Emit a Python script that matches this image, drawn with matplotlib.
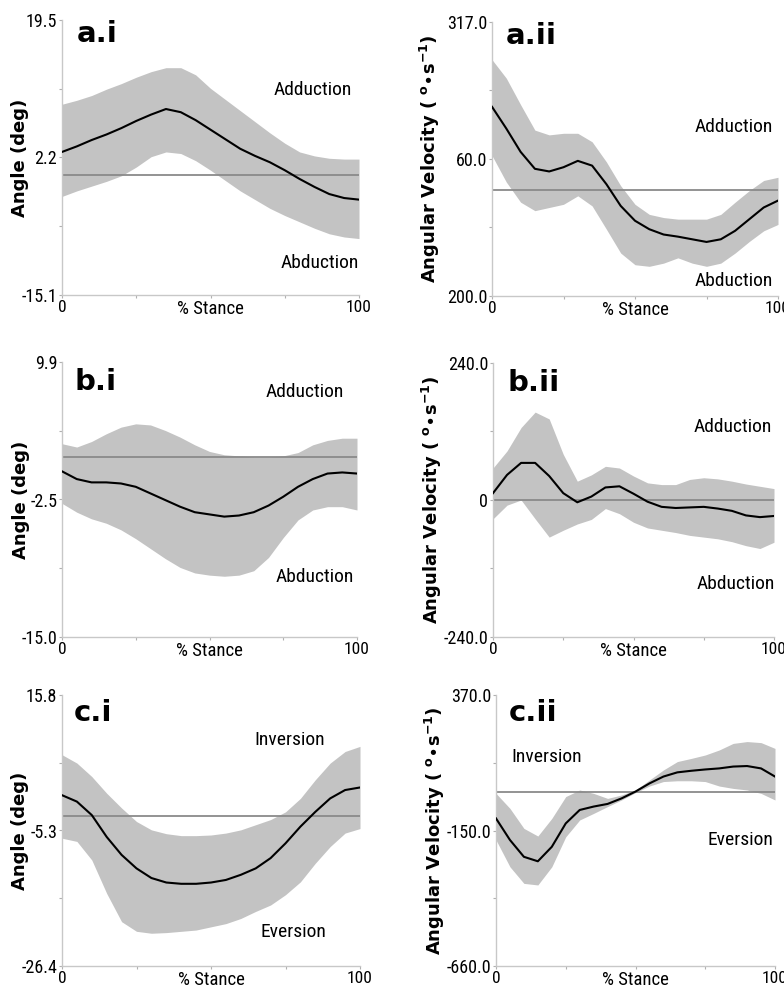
import numpy as np
import matplotlib
matplotlib.use('Agg')
import matplotlib.pyplot as plt

# % stance sample points shared by all panels
stance = [0, 5, 10, 15, 20, 25, 30, 35, 40, 45, 50, 55, 60, 65, 70, 75, 80, 85, 90, 95, 100]

# a.i  angle (deg)
a_i_mean = [2.9, 3.6, 4.4, 5.1, 5.9, 6.8, 7.6, 8.3, 7.9, 6.9, 5.7, 4.5, 3.3, 2.4, 1.6, 0.6, -0.5, -1.5, -2.4, -2.9, -3.1]
a_i_upper = [8.9, 9.4, 10.0, 10.8, 11.5, 12.3, 13.0, 13.5, 13.5, 12.6, 10.9, 9.5, 8.1, 6.7, 5.3, 4.0, 2.9, 2.4, 2.1, 2.0, 2.0]
a_i_lower = [-2.7, -2.0, -1.4, -0.8, -0.1, 1.0, 2.3, 2.9, 2.7, 1.8, 0.6, -0.7, -2.0, -3.1, -4.2, -5.1, -5.9, -6.7, -7.4, -7.8, -8.0]

# a.ii angular velocity
a_ii_mean = [157, 116, 72, 40, 35, 43, 55, 46, 11, -30, -58, -74, -84, -88, -93, -98, -93, -77, -55, -33, -20]
a_ii_upper = [246, 211, 161, 113, 104, 107, 107, 91, 53, 8, -27, -46, -52, -55, -55, -55, -46, -23, -1, 18, 24]
a_ii_lower = [65, 15, -23, -39, -33, -27, -11, -30, -74, -119, -141, -144, -138, -128, -138, -144, -138, -119, -97, -77, -65]

# b.i  angle (deg)
b_i_mean = [0.0, -0.7, -1.0, -1.0, -1.1, -1.4, -2.0, -2.6, -3.2, -3.7, -3.9, -4.1, -4.0, -3.7, -3.1, -2.3, -1.4, -0.7, -0.2, -0.1, -0.2]
b_i_upper = [2.5, 2.2, 2.7, 3.4, 4.0, 4.3, 4.2, 3.7, 3.1, 2.4, 1.8, 1.5, 1.4, 1.3, 1.3, 1.4, 1.7, 2.4, 2.8, 3.0, 3.0]
b_i_lower = [-2.9, -3.7, -4.3, -4.7, -5.3, -6.1, -7.0, -7.9, -8.7, -9.2, -9.4, -9.5, -9.4, -9.0, -7.8, -6.0, -4.4, -3.5, -3.2, -3.2, -3.5]

# b.ii angular velocity
b_ii_mean = [12, 44, 65, 65, 42, 12, -4, 6, 22, 24, 11, -3, -12, -14, -13, -12, -15, -19, -27, -30, -28]
b_ii_upper = [56, 86, 127, 154, 142, 80, 33, 44, 59, 56, 42, 30, 27, 27, 36, 39, 37, 33, 28, 24, 20]
b_ii_lower = [-33, -9, 0, -33, -65, -53, -42, -34, -15, -24, -39, -49, -53, -57, -62, -65, -68, -73, -80, -85, -74]

# c.i  angle (deg)
c_i_mean = [0.2, -0.8, -2.9, -6.3, -9.1, -11.2, -12.7, -13.4, -13.6, -13.6, -13.4, -13.0, -12.2, -11.2, -9.6, -7.3, -4.7, -2.4, -0.3, 1.0, 1.4]
c_i_upper = [6.5, 5.2, 3.1, 0.5, -1.8, -3.9, -5.2, -5.8, -6.1, -6.1, -6.0, -5.7, -5.2, -4.4, -3.6, -2.4, -0.3, 2.6, 5.2, 7.0, 7.8]
c_i_lower = [-6.5, -7.0, -9.9, -15.1, -19.5, -21.0, -21.3, -21.2, -21.0, -20.8, -20.3, -19.8, -19.0, -17.9, -16.9, -15.3, -13.3, -10.4, -7.8, -5.7, -5.0]

# c.ii angular velocity
c_ii_mean = [-99, -181, -245, -262, -207, -118, -67, -54, -44, -23, 3, 34, 60, 76, 82, 87, 91, 98, 100, 91, 60]
c_ii_upper = [-4, -61, -137, -166, -99, -16, 9, -4, -23, -10, 9, 47, 85, 117, 129, 142, 161, 186, 193, 189, 167]
c_ii_lower = [-181, -283, -346, -352, -283, -169, -105, -80, -54, -29, -1, 24, 41, 44, 44, 41, 24, 15, 9, -4, -29]

# y limits and the three printed tick labels (bottom, middle, top)
a_i_ylim = (-15.1, 19.5)
a_ii_ylim = (-200.0, 317.0)
b_i_ylim = (-15.0, 9.9)
b_ii_ylim = (-240.0, 240.0)
c_i_ylim = (-26.4, 15.8)
c_ii_ylim = (-660.0, 370.0)

a_i_ticklabels = ['-15.1', '2.2', '19.5']
a_ii_ticklabels = ['200.0', '60.0', '317.0']
b_i_ticklabels = ['-15.0', '-2.5', '9.9']
b_ii_ticklabels = ['-240.0', '0', '240.0']
c_i_ticklabels = ['-26.4', '-5.3', '15.8']
c_ii_ticklabels = ['-660.0', '-150.0', '370.0']

# level of the thin horizontal reference line
a_i_ref = 0.0
a_ii_ref = 0.0
b_i_ref = 1.3
b_ii_ref = 0.0
c_i_ref = -3.1
c_ii_ref = 0.0

NARROW = ['Roboto Condensed', 'Carlito', 'DejaVu Sans']
ANGLE_LABEL = 'Angle (deg)'
VEL_LABEL = 'Angular Velocity ( $^{\\mathbf{o}}$$\\bullet$s$^{\\mathbf{-1}}$)'


def draw_panel(ax, mean, upper, lower, ylim, ticklabels, ref, ylabel, label_x,
               panel, label_pos, top_text, top_pos, bot_text, bot_pos):
    ax.fill_between(stance, lower, upper, color='#c3c3c3', lw=0)
    ax.axhline(ref, color='#8a8a8a', lw=1.3, zorder=2)
    ax.plot(stance, mean, color='black', lw=1.5, zorder=3)

    ax.set_xlim(0, 100)
    ax.set_ylim(*ylim)
    for s in ['top', 'right']:
        ax.spines[s].set_visible(False)
    for s in ['left', 'bottom']:
        ax.spines[s].set_color('#c8c8c8')
        ax.spines[s].set_linewidth(1.0)

    yt = np.linspace(ylim[0], ylim[1], 5)
    ax.set_yticks(yt)
    ax.set_yticklabels([ticklabels[0], '', ticklabels[1], '', ticklabels[2]],
                       family=NARROW, fontsize=13)
    ax.set_xticks([0, 25, 50, 75, 100])
    ax.set_xticklabels(['0', '', '', '', '100'], family=NARROW, fontsize=12.5)
    ax.tick_params(axis='both', direction='out', length=2.5, width=0.8,
                   color='#b0b0b0', pad=1)

    ax.set_ylabel(ylabel, fontsize=13, fontweight='bold')
    ax.yaxis.set_label_coords(label_x, 0.5)

    ax.text(0.5, -0.018, '% Stance', transform=ax.transAxes, ha='center',
            va='top', family=NARROW, fontsize=13.5)
    ax.text(label_pos[0], label_pos[1], panel, transform=ax.transAxes,
            ha='left', va='center', fontsize=21, fontweight='bold')
    ax.text(top_pos[0], top_pos[1], top_text, transform=ax.transAxes,
            ha='center', va='center', family=NARROW, fontsize=14)
    ax.text(bot_pos[0], bot_pos[1], bot_text, transform=ax.transAxes,
            ha='center', va='center', family=NARROW, fontsize=14)


W, H = 784, 996
fig = plt.figure(figsize=(W / 100, H / 100), dpi=100)


def add_axes(left, right, top, bottom):
    return fig.add_axes([left / W, 1 - bottom / H, (right - left) / W, (bottom - top) / H])


ax = add_axes(62, 359, 20, 295)
draw_panel(ax, a_i_mean, a_i_upper, a_i_lower, a_i_ylim, a_i_ticklabels, a_i_ref,
           ANGLE_LABEL, -0.11, 'a.i', (0.048, 0.95),
           'Adduction', (0.845, 0.745), 'Abduction', (0.868, 0.115))

ax = add_axes(492, 778, 22, 296)
draw_panel(ax, a_ii_mean, a_ii_upper, a_ii_lower, a_ii_ylim, a_ii_ticklabels, a_ii_ref,
           VEL_LABEL, -0.175, 'a.ii', (0.047, 0.95),
           'Adduction', (0.845, 0.615), 'Abduction', (0.845, 0.053))

ax = add_axes(62, 357, 362, 637)
draw_panel(ax, b_i_mean, b_i_upper, b_i_lower, b_i_ylim, b_i_ticklabels, b_i_ref,
           ANGLE_LABEL, -0.11, 'b.i', (0.043, 0.927),
           'Adduction', (0.823, 0.89), 'Abduction', (0.857, 0.218))

ax = add_axes(493, 774, 363, 637)
draw_panel(ax, b_ii_mean, b_ii_upper, b_ii_lower, b_ii_ylim, b_ii_ticklabels, b_ii_ref,
           VEL_LABEL, -0.175, 'b.ii', (0.05, 0.927),
           'Adduction', (0.852, 0.768), 'Abduction', (0.863, 0.195))

ax = add_axes(62, 360, 695, 966)
draw_panel(ax, c_i_mean, c_i_upper, c_i_lower, c_i_ylim, c_i_ticklabels, c_i_ref,
           ANGLE_LABEL, -0.11, 'c.i', (0.039, 0.932),
           'Inversion', (0.765, 0.834), 'Eversion', (0.776, 0.127))

ax = add_axes(496, 775, 695, 966)
draw_panel(ax, c_ii_mean, c_ii_upper, c_ii_lower, c_ii_ylim, c_ii_ticklabels, c_ii_ref,
           VEL_LABEL, -0.175, 'c.ii', (0.044, 0.932),
           'Inversion', (0.182, 0.772), 'Eversion', (0.877, 0.465))

fig.savefig('out.png', dpi=100)
